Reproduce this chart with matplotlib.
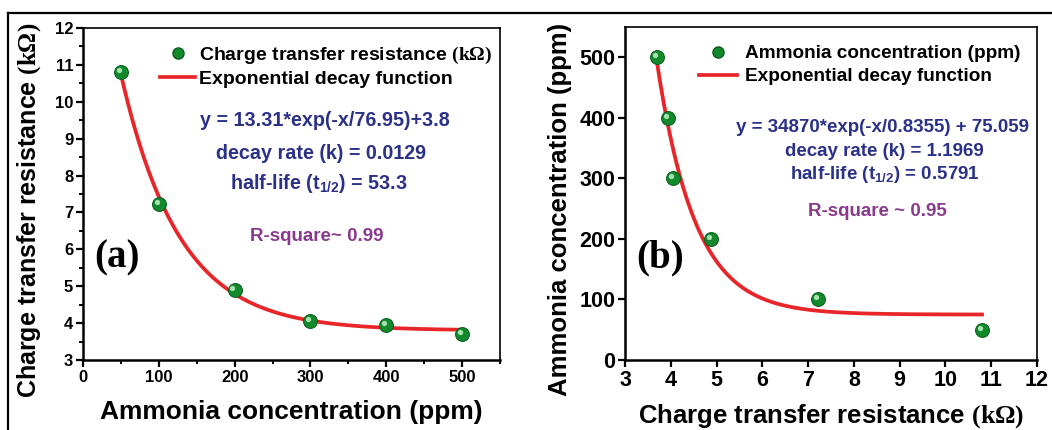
import numpy as np
import matplotlib
matplotlib.use('Agg')
import matplotlib.pyplot as plt
from matplotlib.lines import Line2D
from matplotlib.transforms import offset_copy

plt.rcParams['font.family'] = ['Liberation Sans', 'DejaVu Sans']
plt.rcParams['font.weight'] = 'bold'
plt.rcParams['mathtext.fontset'] = 'custom'
plt.rcParams['mathtext.rm'] = 'Liberation Serif:bold'
plt.rcParams['mathtext.bf'] = 'Liberation Serif:bold'
plt.rcParams['mathtext.sf'] = 'Liberation Sans:bold'

# panel (a): Rct vs NH3 concentration
conc_a = [50, 100, 200, 300, 400, 500]
rct_a = [10.8, 7.22, 4.9, 4.05, 3.95, 3.7]
fit_a = (13.31, 76.95, 3.8)  # A, t, y0 from the printed equation
xticks_a = [0, 100, 200, 300, 400, 500]
yticks_a = [3, 4, 5, 6, 7, 8, 9, 10, 11, 12]

# panel (b): NH3 concentration vs Rct
rct_b = [3.7, 3.95, 4.05, 4.88, 7.22, 10.8]
conc_b = [500, 400, 300, 200, 100, 50]
fit_b = (34870, 0.8355, 75.059)
xticks_b = [3, 4, 5, 6, 7, 8, 9, 10, 11, 12]
yticks_b = [0, 100, 200, 300, 400, 500]

GREEN = '#128a2c'
RED = '#e8262a'
BLUE = '#2b3188'
PURPLE = '#8a3a8e'
KOHM = r'$\mathbf{(k\Omega)}$'

fig = plt.figure(figsize=(10.52, 4.30), dpi=100)
ax1 = fig.add_axes([0.0789, 0.1628, 0.3964, 0.7721])
ax2 = fig.add_axes([0.5941, 0.1628, 0.3916, 0.7744])

# outer frame
fig.add_artist(Line2D([0.0076, 1.0], [0.9698, 0.9698], color='black', lw=1.6))
fig.add_artist(Line2D([0.0076, 0.0076], [0.0, 0.9698], color='black', lw=1.6))


def balls(ax, x, y, ms=10):
    ax.plot(x, y, 'o', ms=ms, color=GREEN, mec='#0b5a1b', mew=0.7, zorder=4)
    hl = offset_copy(ax.transData, fig=fig, x=-1.6, y=1.6, units='points')
    ax.plot(x, y, 'o', ms=ms * 0.38, color='#b5ecbd', mec='none', alpha=0.9,
            transform=hl, zorder=5)


def style(ax, xt, yt, tsize):
    ax.set_xticks(xt, [str(v) for v in xt], fontsize=tsize, fontweight='bold')
    ax.set_yticks(yt, [str(v) for v in yt], fontsize=tsize, fontweight='bold')
    for side in ['left', 'bottom']:
        ax.spines[side].set_linewidth(1.8)
    for side in ['top', 'right']:
        ax.spines[side].set_linewidth(1.2)
    ax.tick_params(which='major', direction='out', length=5, width=1.6, pad=2)
    ax.tick_params(which='minor', direction='out', length=3, width=1.4)


# ---- (a)
xa = np.linspace(min(conc_a), max(conc_a), 300)
A, t, y0 = fit_a
ax1.plot(xa, A * np.exp(-xa / t) + y0, color=RED, lw=2.7, zorder=3)
balls(ax1, conc_a, rct_a)
ax1.set_xlim(0, 550)
ax1.set_ylim(3, 12)
style(ax1, xticks_a, yticks_a, 12)
ax1.set_xticks(np.arange(50, 551, 100), minor=True)
ax1.set_yticks(np.arange(3.5, 12, 1), minor=True)
ax1.set_xlabel('Ammonia concentration (ppm)', fontsize=19, fontweight='bold', labelpad=11)
ax1.set_ylabel('Charge transfer resistance ' + KOHM, fontsize=18, fontweight='bold')
ax1.yaxis.set_label_coords(-0.096, 0.452)

h_pt = Line2D([], [], ls='none', marker='o', ms=8, color=GREEN, mec='#0b5a1b')
h_ln = Line2D([], [], color=RED, lw=2.7)
ax1.legend([h_pt, h_ln], ['Charge transfer resistance ' + KOHM, 'Exponential decay function'],
           loc='upper left', bbox_to_anchor=(0.185, 0.950), frameon=False,
           borderpad=0, borderaxespad=0, handlelength=1.8, handletextpad=0.22,
           labelspacing=0.22, prop={'size': 14, 'weight': 'bold'})

fa = dict(ha='center', va='center', fontsize=14.2, fontweight='bold', color=BLUE,
          transform=ax1.transAxes)
ax1.text(0.581, 0.720, 'y = 13.31*exp(-x/76.95)+3.8', **fa)
ax1.text(0.571, 0.623, 'decay rate (k) = 0.0129', **fa)
ax1.text(0.566, 0.531, r'half-life (t$_{\mathsf{1/2}}$) = 53.3', **fa)
ax1.text(0.561, 0.372, 'R-square~ 0.99', ha='center', va='center', fontsize=13.5,
         fontweight='bold', color=PURPLE, transform=ax1.transAxes)
ax1.text(0.082, 0.306, '(a)', ha='center', va='center', fontsize=28, fontweight='bold',
         family='Liberation Serif', transform=ax1.transAxes)

# ---- (b)
xb = np.linspace(min(rct_b), max(rct_b), 300)
A, t, y0 = fit_b
ax2.plot(xb, A * np.exp(-xb / t) + y0, color=RED, lw=2.7, zorder=3)
balls(ax2, rct_b, conc_b)
ax2.set_xlim(3, 12)
ax2.set_ylim(0, 550)
style(ax2, xticks_b, yticks_b, 15.5)
ax2.set_xlabel('Charge transfer resistance ' + KOHM, fontsize=18.5, fontweight='bold', labelpad=8)
ax2.set_ylabel('Ammonia concentration (ppm)', fontsize=18.5, fontweight='bold')
ax2.yaxis.set_label_coords(-0.129, 0.453)

ax2.legend([h_pt, h_ln], ['Ammonia concentration (ppm)', 'Exponential decay function'],
           loc='upper left', bbox_to_anchor=(0.18, 0.946), frameon=False,
           borderpad=0, borderaxespad=0, handlelength=2.0, handletextpad=0.4,
           labelspacing=0.3, prop={'size': 13.7, 'weight': 'bold'})

fb = dict(ha='center', va='center', fontsize=13.5, fontweight='bold', color=BLUE,
          transform=ax2.transAxes)
ax2.text(0.626, 0.697, 'y = 34870*exp(-x/0.8355) + 75.059', **fb)
ax2.text(0.629, 0.625, 'decay rate (k) = 1.1969', **fb)
ax2.text(0.631, 0.557, r'half-life (t$_{\mathsf{1/2}}$) = 0.5791', **fb)
ax2.text(0.612, 0.447, 'R-square ~ 0.95', ha='center', va='center', fontsize=13.5,
         fontweight='bold', color=PURPLE, transform=ax2.transAxes)
ax2.text(0.085, 0.306, '(b)', ha='center', va='center', fontsize=28, fontweight='bold',
         family='Liberation Serif', transform=ax2.transAxes)

fig.savefig('out.png', dpi=100)
